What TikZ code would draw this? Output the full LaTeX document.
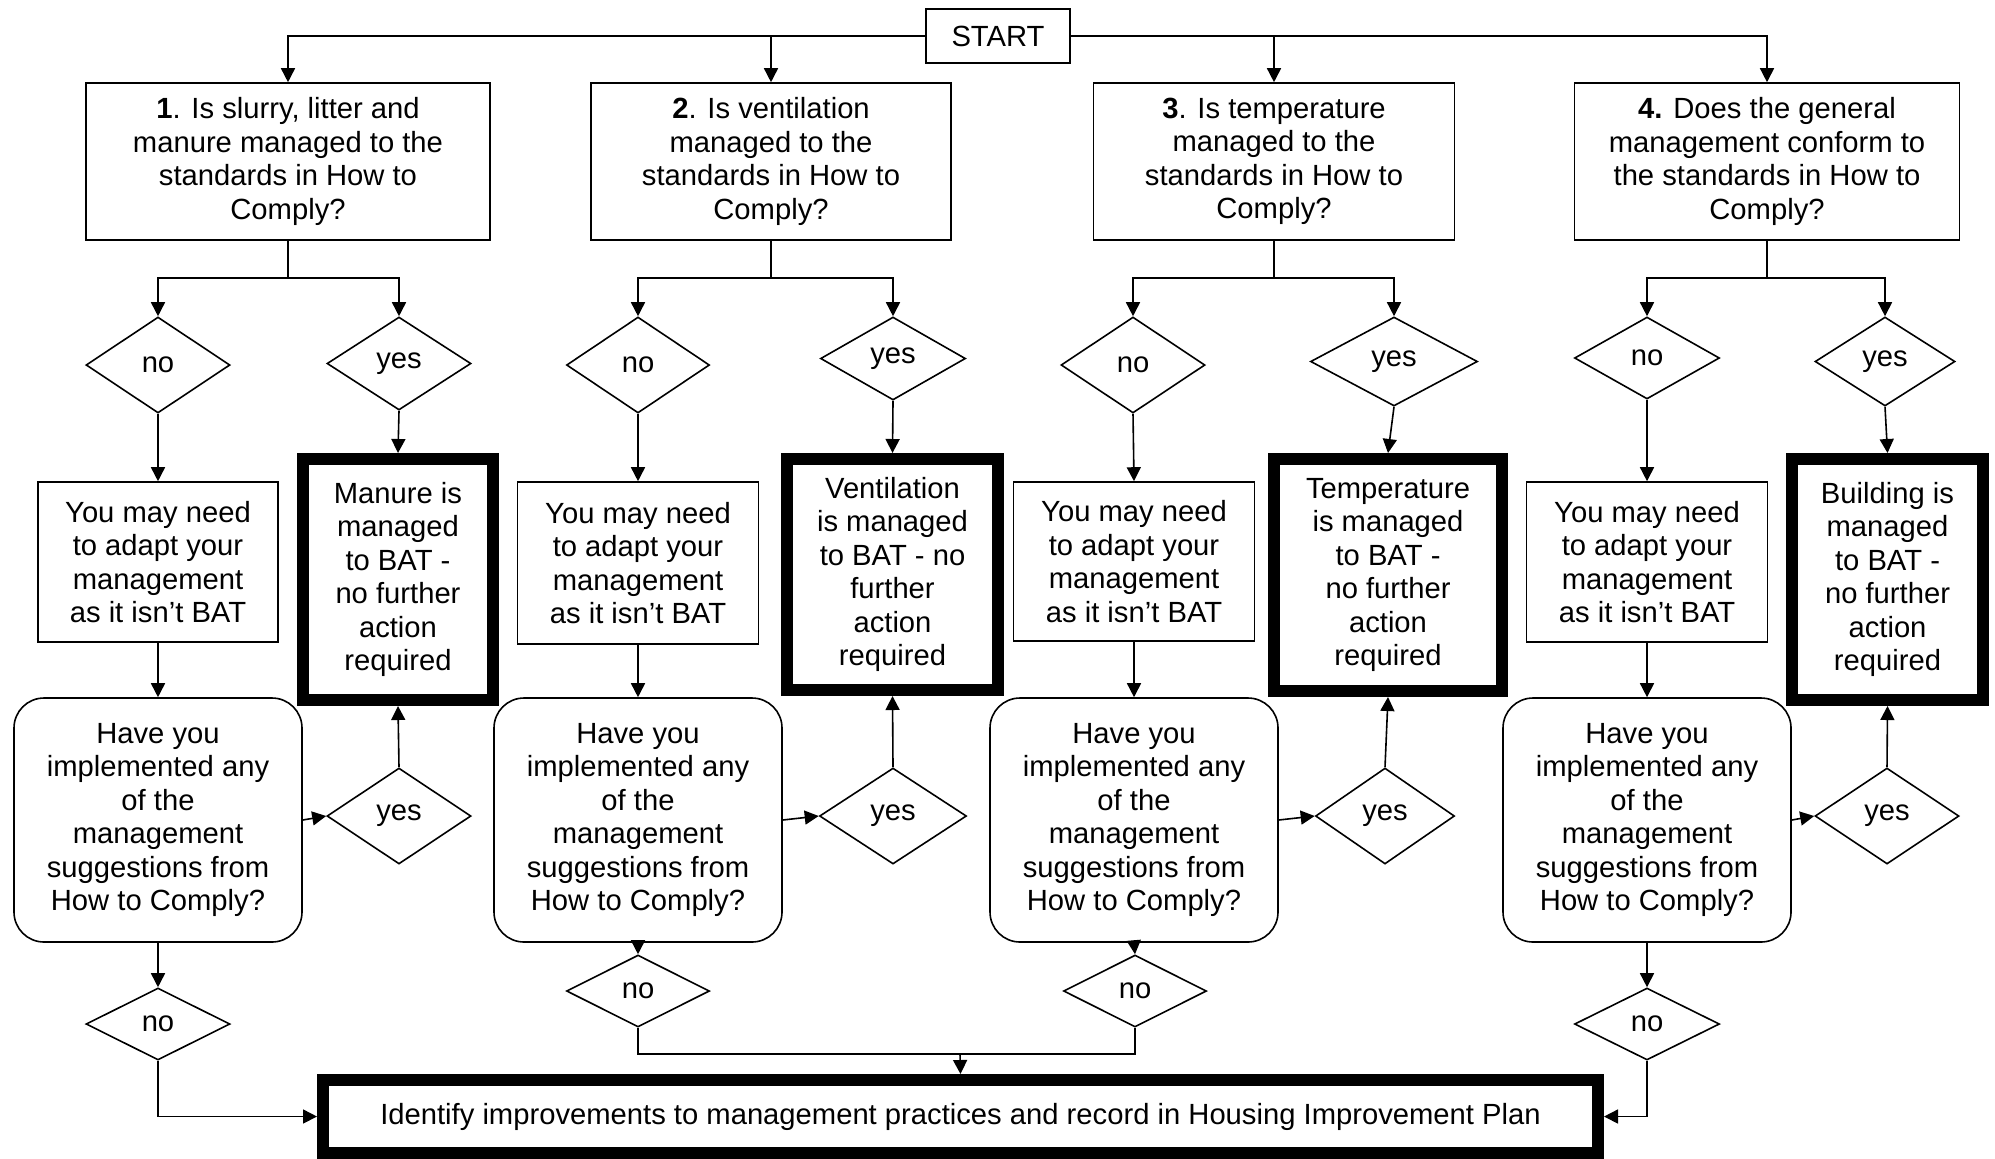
\documentclass[tikz,border=0pt]{standalone}
\usepackage{fontspec}
\setmainfont{Liberation Sans}
\usetikzlibrary{shapes.geometric,arrows.meta}
\newcommand\myfs{\fontsize{14.6pt}{16.75pt}\selectfont}
\begin{document}
\begin{tikzpicture}[x=0.5pt,y=-0.5pt,
  base/.style={draw, line width=0.8pt, align=center, inner sep=0pt, font=\myfs},
  qbox/.style={base, rectangle, minimum height=78.5pt},
  nbox/.style={base, rectangle},
  batbox/.style={base, rectangle, line width=6pt},
  rbox/.style={base, rectangle, rounded corners=15pt, minimum width=144pt, minimum height=122pt},
  dia/.style={base, diamond},
  arr/.style={line width=0.8pt, -{Triangle[length=7pt,width=7pt]}},
  ln/.style={line width=0.8pt}]
\useasboundingbox (0,0) rectangle (1995,1158);
% START
\node[nbox, minimum width=72pt, minimum height=27pt] (S) at (998,36) {START};
% Question boxes
\node[qbox, minimum width=202pt] (Q1) at (288,161.5) {\textbf{1}. Is slurry, litter and\\manure managed to the\\standards in How to\\Comply?};
\node[qbox, minimum width=180pt] (Q2) at (771,161.5) {\textbf{2}. Is ventilation\\managed to the\\standards in How to\\Comply?};
\node[qbox, minimum width=180.5pt] (Q3) at (1274,161.5) {\textbf{3}. Is temperature\\managed to the\\standards in How to\\Comply?};
\node[qbox, minimum width=192.5pt] (Q4) at (1767,161.5) {\textbf{4.} Does the general\\management conform to\\the standards in How to\\Comply?};
% upper diamonds
\node[dia, minimum width=72pt, minimum height=48pt] (n1) at (158,365) {no};
\node[dia, minimum width=72pt, minimum height=46.5pt] (y1) at (399,363.5) {yes};
\node[dia, minimum width=71.5pt, minimum height=48pt] (n2) at (638,365) {no};
\node[dia, minimum width=72.5pt, minimum height=41.5pt] (y2) at (893,358.5) {yes};
\node[dia, minimum width=72pt, minimum height=48pt] (n3) at (1133,365) {no};
\node[dia, minimum width=83.5pt, minimum height=44.5pt] (y3) at (1394,361.5) {yes};
\node[dia, minimum width=72.5pt, minimum height=41pt] (n4) at (1647,358) {no};
\node[dia, minimum width=70pt, minimum height=44.5pt] (y4) at (1885,361.5) {yes};
% adapt boxes
\node[nbox, minimum width=120pt, minimum height=80pt] (m1) at (158,562) {You may need\\to adapt your\\management\\as it isn’t BAT};
\node[nbox, minimum width=120.5pt, minimum height=81pt] (m2) at (638,563) {You may need\\to adapt your\\management\\as it isn’t BAT};
\node[nbox, minimum width=120.5pt, minimum height=79.5pt] (m3) at (1134,561.5) {You may need\\to adapt your\\management\\as it isn’t BAT};
\node[nbox, minimum width=120.5pt, minimum height=80pt] (m4) at (1647,562) {You may need\\to adapt your\\management\\as it isn’t BAT};
% BAT boxes
\node[batbox, minimum width=95pt, minimum height=120.5pt] (b1) at (398,579.5) {Manure is\\managed\\to BAT -\\no further\\action\\required};
\node[batbox, minimum width=105.5pt, minimum height=115.5pt] (b2) at (892.5,574.5) {Ventilation\\is managed\\to BAT - no\\further\\action\\required};
\node[batbox, minimum width=114pt, minimum height=116pt] (b3) at (1388,575) {Temperature\\is managed\\to BAT -\\no further\\action\\required};
\node[batbox, minimum width=95.5pt, minimum height=120.5pt] (b4) at (1887.5,579.5) {Building is\\managed\\to BAT -\\no further\\action\\required};
% rounded boxes
\node[rbox] (r1) at (158,820) {Have you\\implemented any\\of the\\management\\suggestions from\\How to Comply?};
\node[rbox] (r2) at (638,820) {Have you\\implemented any\\of the\\management\\suggestions from\\How to Comply?};
\node[rbox] (r3) at (1134,820) {Have you\\implemented any\\of the\\management\\suggestions from\\How to Comply?};
\node[rbox] (r4) at (1647,820) {Have you\\implemented any\\of the\\management\\suggestions from\\How to Comply?};
% lower yes diamonds
\node[dia, minimum width=72pt, minimum height=48pt] (z1) at (399,816) {yes};
\node[dia, minimum width=73.5pt, minimum height=48pt] (z2) at (893,816) {yes};
\node[dia, minimum width=69.5pt, minimum height=48pt] (z3) at (1385,816) {yes};
\node[dia, minimum width=72pt, minimum height=48pt] (z4) at (1887,816) {yes};
% lower no diamonds
\node[dia, minimum width=72pt, minimum height=36pt] (l1) at (158,1024) {no};
\node[dia, minimum width=71.5pt, minimum height=36pt] (l2) at (638,991) {no};
\node[dia, minimum width=71.5pt, minimum height=36pt] (l3) at (1135,991) {no};
\node[dia, minimum width=72.5pt, minimum height=36pt] (l4) at (1647,1024) {no};
% final box
\node[batbox, minimum width=637.5pt, minimum height=36.5pt] (F) at (960.5,1116.5) {Identify improvements to management practices and record in Housing Improvement Plan};
% connectors top
\draw[arr] (S.west) -| (Q1.north);
\draw[arr] (S.west) -| (Q2.north);
\draw[arr] (S.east) -| (Q3.north);
\draw[arr] (S.east) -| (Q4.north);
\coordinate (j1) at (288,278);
\coordinate (j2) at (771,278);
\coordinate (j3) at (1274,278);
\coordinate (j4) at (1767,278);
\foreach \i in {1,2,3,4}{
  \draw[ln] (Q\i.south) -- (j\i);
  \draw[arr] (j\i) -| (n\i.north);
  \draw[arr] (j\i) -| (y\i.north);
  \draw[arr] (n\i.south) -- (m\i.north);
  \draw[arr] (y\i.south) -- (b\i.north);
  \draw[arr] (m\i.south) -- (r\i.north);
  \draw[arr] (r\i.east) -- (z\i.west);
  \draw[arr] (z\i.north) -- (b\i.south);
  \draw[arr] (r\i.south) -- (l\i.north);
}
\coordinate (mj) at (960,1054);
\draw[arr] (l1.south) |- (F.west);
\draw[arr] (l4.south) |- (F.east);
\draw[ln] (l2.south) |- (mj) -| (l3.south);
\draw[arr] (mj) -- (F.north);
\end{tikzpicture}
\end{document}
